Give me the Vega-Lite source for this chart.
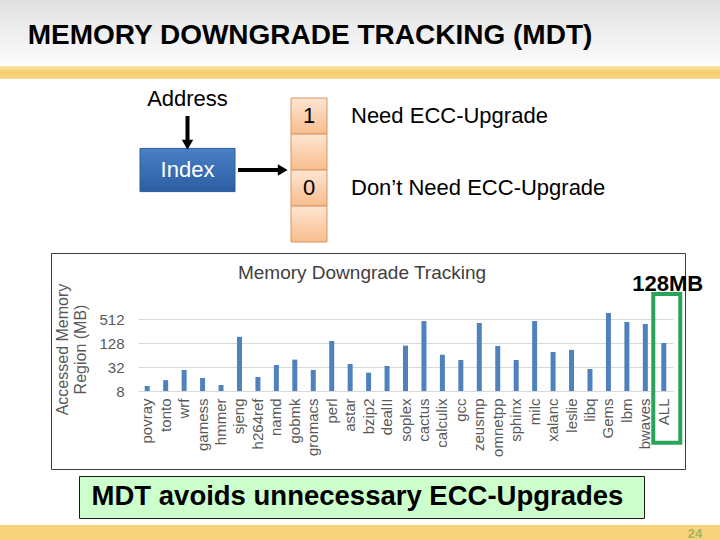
{
"$schema": "https://vega.github.io/schema/vega-lite/v6.json",
"background": "white",
"padding": 0,
"spacing": 9,
"config": {"concat": {"spacing": 0}, "view": {"stroke": null}, "font": "Liberation Sans", "text": {"font": "Liberation Sans"}, "title": {"font": "Liberation Sans"}, "axis": {"labelFont": "Liberation Sans", "titleFont": "Liberation Sans"}},
"datasets": {
  "bench": [
    {"bench": "povray", "mb": 10.7},
    {"bench": "tonto", "mb": 15},
    {"bench": "wrf", "mb": 27},
    {"bench": "gamess", "mb": 17},
    {"bench": "hmmer", "mb": 11.3},
    {"bench": "sjeng", "mb": 183},
    {"bench": "h264ref", "mb": 18},
    {"bench": "namd", "mb": 36},
    {"bench": "gobmk", "mb": 49},
    {"bench": "gromacs", "mb": 27},
    {"bench": "perl", "mb": 144},
    {"bench": "astar", "mb": 38},
    {"bench": "bzip2", "mb": 23},
    {"bench": "dealII", "mb": 34},
    {"bench": "soplex", "mb": 110},
    {"bench": "cactus", "mb": 455},
    {"bench": "calculix", "mb": 65},
    {"bench": "gcc", "mb": 48},
    {"bench": "zeusmp", "mb": 406},
    {"bench": "omnetpp", "mb": 108},
    {"bench": "sphinx", "mb": 48},
    {"bench": "milc", "mb": 455},
    {"bench": "xalanc", "mb": 76},
    {"bench": "leslie", "mb": 86},
    {"bench": "libq", "mb": 28.5},
    {"bench": "Gems", "mb": 724},
    {"bench": "lbm", "mb": 430},
    {"bench": "bwaves", "mb": 384},
    {"bench": "ALL", "mb": 128}
  ],
  "bits": [
    {"cell": "c1", "bit": "1", "meaning": "Need ECC-Upgrade"},
    {"cell": "c2", "bit": "", "meaning": ""},
    {"cell": "c3", "bit": "0", "meaning": "Don’t Need ECC-Upgrade"},
    {"cell": "c4", "bit": "", "meaning": ""}
  ]
},
"vconcat": [
  {"vconcat": [
    {"hconcat": [
      {"width": 620, "height": 66, "data": {"values": [{"title": "MEMORY DOWNGRADE TRACKING (MDT)"}]},
       "layer": [
         {"mark": {"type": "rect", "fill": {"gradient": "linear", "x1": 0, "y1": 0, "x2": 0, "y2": 1, "stops": [{"offset": 0, "color": "#e0e0e0"}, {"offset": 1, "color": "#fdfdfd"}]}}, "encoding": {}},
         {"mark": {"type": "text", "fontSize": 28, "fontWeight": "bold", "color": "black", "baseline": "middle", "dy": 3}, "encoding": {"text": {"field": "title"}}}
       ]},
      {"width": 100, "height": 66, "data": {"values": [{"k": 1}]},
       "mark": {"type": "rect", "fill": {"gradient": "linear", "x1": 0, "y1": 0, "x2": 0, "y2": 1, "stops": [{"offset": 0, "color": "#e0e0e0"}, {"offset": 1, "color": "#fdfdfd"}]}}, "encoding": {}}
    ], "spacing": 0},
    {"width": 720, "height": 13, "data": {"values": [{"k": 1}]},
     "mark": {"type": "rect", "fill": {"gradient": "linear", "x1": 0, "y1": 0, "x2": 0, "y2": 1, "stops": [{"offset": 0, "color": "#fbe5ae"}, {"offset": 0.5, "color": "#f5cd6b"}, {"offset": 1, "color": "#f8d98f"}]}}, "encoding": {}}
  ], "spacing": 0},
  {"hconcat": [
    {"width": 139, "height": 1, "data": {"values": []}, "mark": {"type": "point", "opacity": 0}},
    {"width": 95, "height": 144,
     "layer": [
       {"data": {"values": [{"label": "Index"}]},
        "mark": {"type": "rect", "fill": {"gradient": "linear", "x1": 0, "y1": 0, "x2": 0, "y2": 1, "stops": [{"offset": 0, "color": "#4a80c6"}, {"offset": 1, "color": "#2b5da2"}]}, "stroke": "#2c5c9c", "strokeWidth": 1},
        "encoding": {"y": {"datum": 1.4, "type": "quantitative", "scale": {"domain": [0, 4], "reverse": true, "nice": false, "zero": false}, "axis": null}, "y2": {"datum": 2.6}}},
       {"data": {"values": [{"label": "Index"}]},
        "mark": {"type": "text", "fontSize": 22, "color": "white", "baseline": "middle"},
        "encoding": {"y": {"datum": 2, "type": "quantitative"}, "text": {"field": "label"}}},
       {"data": {"values": [{"label": "Address"}]},
        "mark": {"type": "text", "fontSize": 22, "color": "black", "baseline": "middle"},
        "encoding": {"y": {"datum": 0.03, "type": "quantitative"}, "text": {"field": "label"}}},
       {"data": {"values": [{"k": "arrow"}]},
        "mark": {"type": "rule", "strokeWidth": 4, "color": "black"},
        "encoding": {"x": {"datum": 0.5, "type": "quantitative", "scale": {"domain": [0, 1]}, "axis": null}, "y": {"datum": 0.5, "type": "quantitative"}, "y2": {"datum": 1.2}}},
       {"data": {"values": [{"k": "head"}]},
        "mark": {"type": "point", "shape": "triangle-down", "filled": true, "color": "black", "size": 130, "opacity": 1},
        "encoding": {"x": {"datum": 0.5, "type": "quantitative"}, "y": {"datum": 1.3, "type": "quantitative"}}}
     ]},
    {"width": 52, "height": 144, "data": {"values": [{"k": "link"}]},
     "layer": [
       {"mark": {"type": "rule", "strokeWidth": 4, "color": "black"},
        "encoding": {"y": {"datum": 2, "type": "quantitative", "scale": {"domain": [0, 4], "reverse": true, "nice": false, "zero": false}, "axis": null}, "x": {"datum": 0, "type": "quantitative", "scale": {"domain": [0, 1]}, "axis": null}, "x2": {"datum": 0.8}}},
       {"mark": {"type": "point", "shape": "triangle-right", "filled": true, "color": "black", "size": 130, "opacity": 1},
        "encoding": {"x": {"datum": 0.86, "type": "quantitative"}, "y": {"datum": 2, "type": "quantitative"}}}
     ]},
    {"width": 36, "height": 144, "data": {"name": "bits"},
     "layer": [
       {"mark": {"type": "rect", "fill": {"gradient": "linear", "x1": 0, "y1": 0, "x2": 0, "y2": 1, "stops": [{"offset": 0, "color": "#fde5d2"}, {"offset": 1, "color": "#f8bd8c"}]}, "stroke": "#d9955e", "strokeWidth": 1},
        "encoding": {"y": {"field": "cell", "type": "nominal", "sort": null, "scale": {"paddingInner": 0, "paddingOuter": 0}, "axis": null}}},
       {"mark": {"type": "text", "fontSize": 22, "color": "black"},
        "encoding": {"y": {"field": "cell", "type": "nominal", "sort": null}, "text": {"field": "bit"}}}
     ]},
    {"width": 46, "height": 144, "data": {"name": "bits"},
     "mark": {"type": "text", "fontSize": 22, "align": "left", "color": "black"},
     "encoding": {"y": {"field": "cell", "type": "nominal", "sort": null, "axis": null}, "text": {"field": "meaning"}}}
  ], "spacing": 0},
  {"vconcat": [
    {"hconcat": [
      {"width": 50, "height": 1, "data": {"values": []}, "mark": {"type": "point", "opacity": 0}},
      {"width": 634, "height": 216,
       "view": {"stroke": "#3c3c3c", "strokeWidth": 1},
       "title": {"text": "Memory Downgrade Tracking", "fontSize": 19, "fontWeight": "normal", "color": "#404040", "offset": -30, "frame": "group", "anchor": "middle", "dx": -6},
       "data": {"name": "bench"},
       "layer": [
         {"mark": {"type": "bar", "width": 5, "color": "#4f81bd"},
          "encoding": {
            "x": {"field": "bench", "type": "nominal", "sort": null,
                  "scale": {"range": [87, 622], "paddingInner": 0, "paddingOuter": 0},
                  "axis": {"title": null, "labelAngle": -90, "labelFontSize": 15, "labelColor": "#595959", "ticks": false, "domain": true, "domainColor": "#d9d9d9", "offset": -78, "labelPadding": 7, "labelLimit": 0, "grid": false}},
            "y": {"field": "mb", "type": "quantitative",
                  "scale": {"type": "log", "base": 2, "domain": [8, 1024], "range": [138, 54], "nice": false},
                  "axis": {"title": ["Accessed Memory", "Region (MB)"], "titleFontSize": 16, "titleFontWeight": "normal", "titleColor": "#595959", "titlePadding": 10, "values": [8, 32, 128, 512], "format": "d", "labelFontSize": 15, "labelColor": "#595959", "ticks": false, "domain": false, "grid": true, "gridColor": "#d9d9d9", "offset": -85, "labelPadding": 12}},
            "y2": {"datum": 8}
          }},
         {"mark": {"type": "bar", "width": 27, "fill": "transparent", "stroke": "#2ba35b", "strokeWidth": 4, "xOffset": 3},
          "encoding": {
            "x": {"field": "bench", "type": "nominal", "sort": null},
            "y": {"datum": 2170, "type": "quantitative"},
            "y2": {"datum": 0.4},
            "strokeOpacity": {"condition": {"test": "datum.bench === 'ALL'", "value": 1}, "value": 0}
          }},
         {"mark": {"type": "text", "fontSize": 22, "fontWeight": "bold", "color": "black", "baseline": "middle", "dx": 4},
          "encoding": {
            "x": {"field": "bench", "type": "nominal", "sort": null},
            "y": {"datum": 3865, "type": "quantitative"},
            "text": {"condition": {"test": "datum.bench === 'ALL'", "value": "128MB"}, "value": ""}
          }}
       ]}
    ], "spacing": 0},
    {"vconcat": [
      {"hconcat": [
        {"width": 78, "height": 1, "data": {"values": []}, "mark": {"type": "point", "opacity": 0}},
        {"width": 565, "height": 42, "view": {"fill": "#ccffcc", "stroke": "#1a1a1a", "strokeWidth": 1},
         "data": {"values": [{"caption": "MDT avoids unnecessary ECC-Upgrades"}]},
         "mark": {"type": "text", "fontSize": 27.5, "fontWeight": "bold", "color": "black", "baseline": "middle", "dx": -4},
         "encoding": {"text": {"field": "caption"}}}
      ], "spacing": 0},
      {"hconcat": [
        {"width": 670, "height": 17, "data": {"values": [{"k": 1}]}, "mark": {"type": "rect", "color": "#f9d37c"}, "encoding": {}},
        {"width": 50, "height": 17, "data": {"values": [{"page": "24"}]},
         "layer": [
           {"mark": {"type": "rect", "color": "#f9d37c"}, "encoding": {}},
           {"mark": {"type": "text", "fontSize": 13, "fontWeight": "bold", "color": "#a3b65c", "baseline": "middle"}, "encoding": {"text": {"field": "page"}}}
         ]}
      ], "spacing": 0}
    ], "spacing": 6}
  ], "spacing": 5}
]
}
